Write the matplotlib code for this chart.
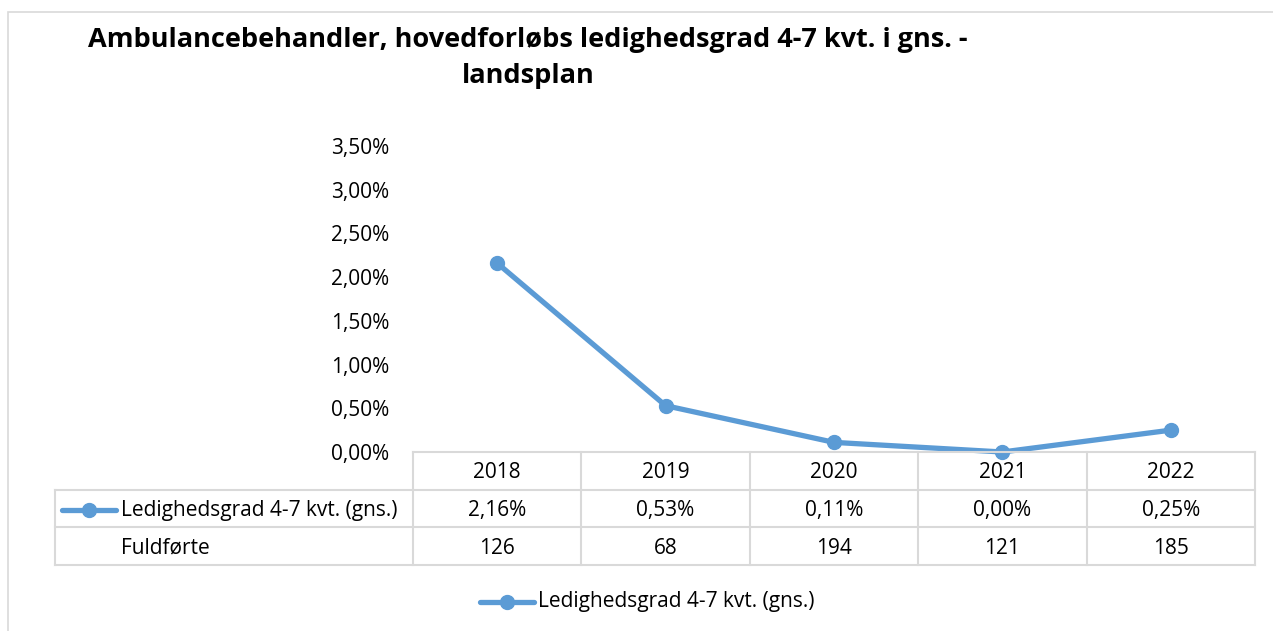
import matplotlib.pyplot as plt
from matplotlib.lines import Line2D
from matplotlib.patches import Rectangle
from matplotlib.transforms import blended_transform_factory

plt.rcParams['font.family'] = ['Open Sans', 'DejaVu Sans']

# Data
years = ['2018', '2019', '2020', '2021', '2022']
ledighed = [2.16, 0.53, 0.11, 0.00, 0.25]   # procent
fuldfoerte = [126, 68, 194, 121, 185]
series_name = 'Ledighedsgrad 4-7 kvt. (gns.)'
row2_name = 'Fuldførte'
yticks = [0, 0.5, 1.0, 1.5, 2.0, 2.5, 3.0, 3.5]

blue = '#5B9BD5'
grid_col = '#D9D9D9'
W, H = 1273, 631
fs = 15

def fx(px):
    return px / W

def fy(py):
    return 1 - py / H

def pct(v):
    return f'{v:.2f}%'.replace('.', ',')

fig = plt.figure(figsize=(12.73, 6.31), dpi=100)

# ydre ramme
fig.patches.append(Rectangle((fx(8), fy(640)), fx(1280) - fx(8), fy(12) - fy(640),
                             transform=fig.transFigure, fill=False,
                             edgecolor=grid_col, linewidth=1.2))

ax = fig.add_axes([fx(413), fy(452), fx(1255) - fx(413), fy(146) - fy(452)])
x = list(range(len(years)))
ax.plot(x, ledighed, color=blue, linewidth=3.8, marker='o', markersize=10,
        solid_capstyle='round', clip_on=False)
ax.set_xlim(-0.5, len(years) - 0.5)
ax.set_ylim(0, 3.5)
ax.set_yticks(yticks)
ax.set_yticklabels([pct(v) for v in yticks], fontsize=fs)
ax.set_xticks([])
ax.tick_params(axis='y', length=0, pad=17)
for s in ax.spines.values():
    s.set_visible(False)

# Titel
fig.text(fx(528), fy(58), 'Ambulancebehandler, hovedforløbs ledighedsgrad 4-7 kvt. i gns. -\nlandsplan',
         ha='center', va='center', fontsize=19.5, fontweight='bold', linespacing=1.5)

# Datatabel under grafen
tr = blended_transform_factory(ax.transData, fig.transFigure)
rows_y = [452, 490, 527, 565]
lw = 1.5
# vandrette linjer
fig.add_artist(Line2D([-0.5, 4.5], [fy(rows_y[0])] * 2, transform=tr, color=grid_col, lw=lw))
for ry in rows_y[1:]:
    fig.add_artist(Line2D([fx(55), fx(1255)], [fy(ry)] * 2, transform=fig.transFigure,
                          color=grid_col, lw=lw))
# lodrette linjer
for i in range(len(years) + 1):
    fig.add_artist(Line2D([i - 0.5, i - 0.5], [fy(rows_y[0]), fy(rows_y[-1])], transform=tr,
                          color=grid_col, lw=lw))
fig.add_artist(Line2D([fx(55), fx(55)], [fy(rows_y[1]), fy(rows_y[-1])],
                      transform=fig.transFigure, color=grid_col, lw=lw))

mid = [(rows_y[k] + rows_y[k + 1]) / 2 + 2 for k in range(3)]
for i, yr in enumerate(years):
    fig.text(i, fy(mid[0]), yr, transform=tr, ha='center', va='center', fontsize=fs)
    fig.text(i, fy(mid[1]), pct(ledighed[i]), transform=tr, ha='center', va='center', fontsize=fs)
    fig.text(i, fy(mid[2]), str(fuldfoerte[i]), transform=tr, ha='center', va='center', fontsize=fs)

# legendenøgle i tabellen
fig.add_artist(Line2D([fx(62), fx(116)], [fy(mid[1] - 1)] * 2, transform=fig.transFigure,
                      color=blue, lw=3.8, solid_capstyle='round'))
fig.add_artist(Line2D([fx(89)], [fy(mid[1] - 1)], transform=fig.transFigure,
                      color=blue, marker='o', markersize=10))
fig.text(fx(121), fy(mid[1]), series_name, ha='left', va='center', fontsize=fs)
fig.text(fx(121), fy(mid[2]), row2_name, ha='left', va='center', fontsize=fs)

# forklaring nederst
fig.add_artist(Line2D([fx(480), fx(534)], [fy(602)] * 2, transform=fig.transFigure,
                      color=blue, lw=3.8, solid_capstyle='round'))
fig.add_artist(Line2D([fx(507)], [fy(602)], transform=fig.transFigure,
                      color=blue, marker='o', markersize=10))
fig.text(fx(538), fy(602), series_name, ha='left', va='center', fontsize=fs)

fig.savefig('out.png', dpi=100)
